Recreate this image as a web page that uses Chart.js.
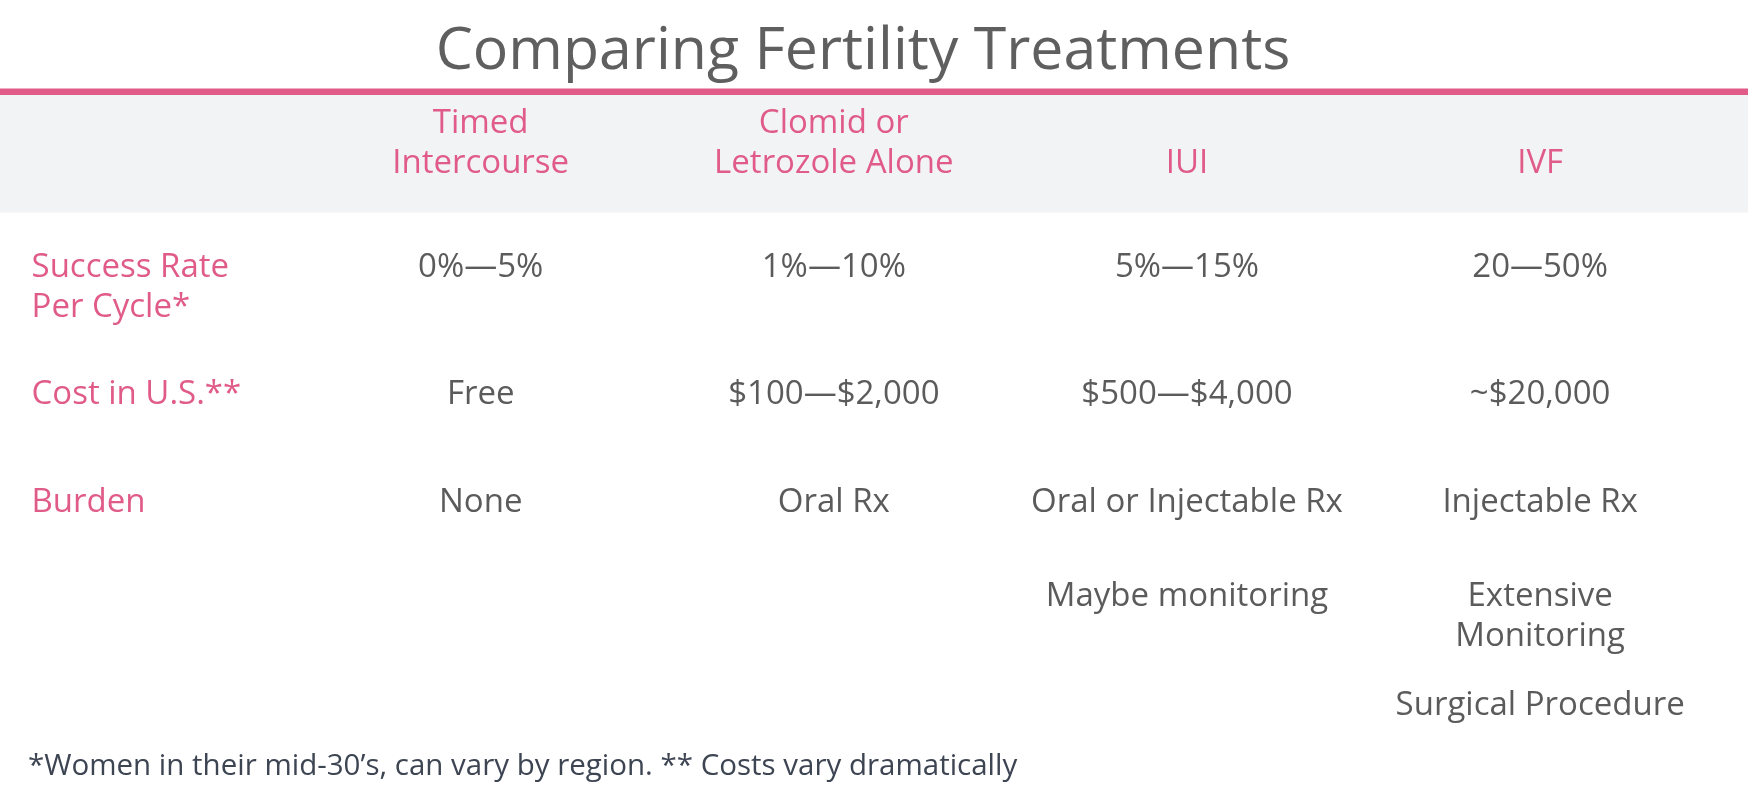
<!DOCTYPE html>
<html>
<head>
<meta charset="utf-8">
<script src="https://cdn.jsdelivr.net/npm/chart.js@4.4.1/dist/chart.umd.min.js"></script>
<style>
  html, body { margin: 0; padding: 0; background: #ffffff; }
  #wrap { width: 1748px; height: 790px; position: relative; }
</style>
</head>
<body>
<div id="wrap"><canvas id="tableChart"></canvas></div>
<script>
// table content
const treatments = ['Timed\nIntercourse', 'Clomid or\nLetrozole Alone', 'IUI', 'IVF'];
const rowLabels = ['Success Rate\nPer Cycle*', 'Cost in U.S.**', 'Burden'];
const successRates = ['0%—5%', '1%—10%', '5%—15%', '20—50%'];
const costs = ['Free', '$100—$2,000', '$500—$4,000', '~$20,000'];
const burdens = [
    ['None'],
    ['Oral Rx'],
    ['Oral or Injectable Rx', 'Maybe monitoring'],
    ['Injectable Rx', 'Extensive\nMonitoring', 'Surgical Procedure']
];
const footnote = '*Women in their mid-30’s, can vary by region. ** Costs vary dramatically';

// row positions on the y axis, in text-line slots
const headerSlot = -2.875;
const rowSlots = [0, 3.5, 6.5];
const burdenSteps = [0, 2.6, 5.6];

const PINK = '#e05b88';
const GRAY = '#5b5b5b';
const X_MIN = -0.2818, X_MAX = 4.447;
const LABEL_X = X_MIN + 0.01;
const LINE_H = 40;

function cells(texts, slot) {
    return texts.map((t, i) => ({ x: i + 1, y: slot, text: t }));
}

const burdenCells = [];
burdens.forEach((items, i) => {
    items.forEach((t, j) => burdenCells.push({ x: i + 1, y: rowSlots[2] + burdenSteps[j], text: t }));
});

const textPlugin = {
    id: 'cellText',
    beforeDraw(chart) {
        const { ctx, chartArea, scales } = chart;
        ctx.save();
        // pink rule + grey header band
        ctx.fillStyle = PINK;
        ctx.fillRect(0, chartArea.top + 0.5, chart.width, 6.5);
        ctx.fillStyle = '#f2f3f5';
        const bandBottom = scales.y.getPixelForValue(-1.78);
        ctx.fillRect(0, chartArea.top + 7, chart.width, bandBottom - chartArea.top - 7);
        ctx.restore();
    },
    afterDatasetsDraw(chart) {
        const ctx = chart.ctx;
        chart.data.datasets.forEach((ds, di) => {
            const meta = chart.getDatasetMeta(di);
            ctx.save();
            ctx.font = '33px "Open Sans"';
            ctx.fillStyle = ds.textColor;
            ctx.textAlign = ds.textAlign;
            ctx.textBaseline = 'alphabetic';
            meta.data.forEach((el, k) => {
                const lines = ds.data[k].text.split('\n');
                lines.forEach((ln, n) => {
                    // bottom-anchored header cells grow upward
                    const off = ds.fromBottom ? (n - lines.length + 1) * LINE_H : n * LINE_H;
                    ctx.fillText(ln, el.x, el.y + off);
                });
            });
            ctx.restore();
        });
    }
};

new Chart(document.getElementById('tableChart'), {
    type: 'scatter',
    data: {
        datasets: [
            { label: 'header', data: cells(treatments, headerSlot), textColor: PINK, textAlign: 'center', fromBottom: true },
            { label: 'rows', data: rowLabels.map((t, r) => ({ x: LABEL_X, y: rowSlots[r], text: t })), textColor: PINK, textAlign: 'left' },
            { label: 'success', data: cells(successRates, rowSlots[0]), textColor: GRAY, textAlign: 'center' },
            { label: 'cost', data: cells(costs, rowSlots[1]), textColor: GRAY, textAlign: 'center' },
            { label: 'burden', data: burdenCells, textColor: GRAY, textAlign: 'center' }
        ]
    },
    options: {
        responsive: true,
        maintainAspectRatio: false,
        animation: false,
        events: [],
        elements: { point: { radius: 0, hoverRadius: 0 } },
        layout: { autoPadding: false, padding: { left: 28, right: 50, top: 0, bottom: 0 } },
        scales: {
            x: { type: 'linear', display: false, min: X_MIN, max: X_MAX },
            y: { type: 'linear', display: false, reverse: true, min: -5.221, max: 12.901 }
        },
        plugins: {
            legend: { display: false },
            tooltip: { enabled: false },
            title: {
                display: true,
                text: 'Comparing Fertility Treatments',
                color: '#5f5f5f',
                font: { family: 'Open Sans', size: 59, weight: 'normal' },
                padding: { top: 17, bottom: 0.2 }
            },
            subtitle: {
                display: true,
                position: 'bottom',
                align: 'start',
                text: footnote,
                color: '#3d4452',
                font: { family: 'Open Sans', size: 29.5, weight: 'normal' },
                padding: { top: 4.6, bottom: 6 }
            }
        }
    },
    plugins: [textPlugin]
});
</script>
</body>
</html>
